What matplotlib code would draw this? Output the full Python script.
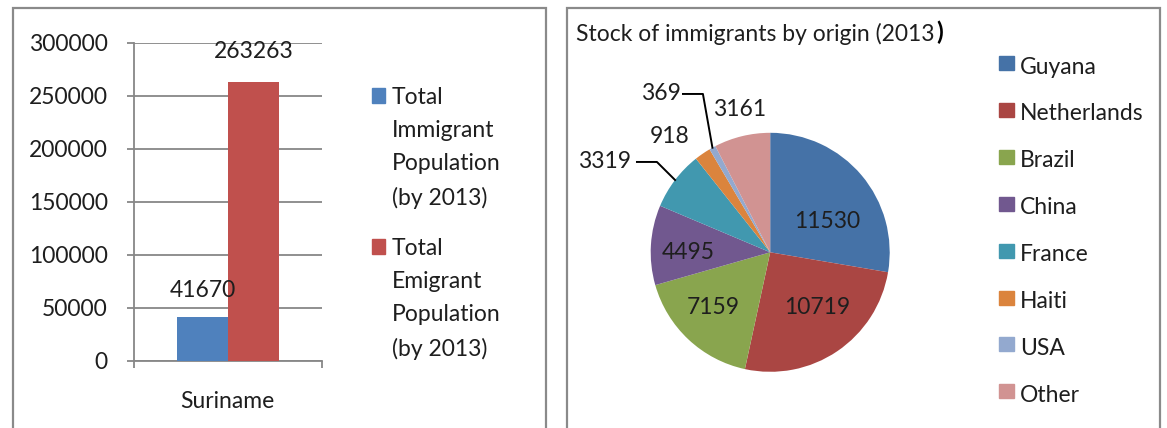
import numpy as np
import matplotlib
matplotlib.use("Agg")
import matplotlib.pyplot as plt
from matplotlib.patches import Rectangle

plt.rcParams['font.family'] = ['Lato', 'DejaVu Sans']

# bar chart data
countries = ['Suriname']
immigrants = [41670]
emigrants = [263263]
bar_labels = ['Total\nImmigrant\nPopulation\n(by 2013)', 'Total\nEmigrant\nPopulation\n(by 2013)']

# pie chart data
origins = ['Guyana', 'Netherlands', 'Brazil', 'China', 'France', 'Haiti', 'USA', 'Other']
stock = [11530, 10719, 7159, 4495, 3319, 918, 369, 3161]
pie_colors = ['#4572A7', '#AA4643', '#89A54E', '#71588F', '#4198AF', '#DB843D', '#93A9CF', '#D19392']

W, H = 1167, 428
fig = plt.figure(figsize=(W / 100, H / 100), dpi=100)
txt = '#1e1e1e'
grey = '#878787'
fs = 16.5


def fx(x):
    return x / W


def fy(y):
    return 1 - y / H


# panel frames
for x0, x1 in [(12.5, 546), (567, 1160)]:
    fig.patches.append(Rectangle((fx(x0), fy(440)), fx(x1 - x0), (440 - 8) / H,
                                 transform=fig.transFigure, fill=False,
                                 edgecolor='#8a8a8a', lw=1.6))

# ---- left: bars ----
ax = fig.add_axes([fx(134), fy(360.7), 188 / W, 318 / H])
w = 0.27
b1 = ax.bar(-w / 2, immigrants, w, color='#4F81BD', zorder=3)
b2 = ax.bar(w / 2, emigrants, w, color='#C0504D', zorder=3)
ax.bar_label(b1, labels=[str(v) for v in immigrants], padding=11, fontsize=fs, color=txt)
ax.bar_label(b2, labels=[str(v) for v in emigrants], padding=14, fontsize=fs, color=txt)
ax.set_xlim(-0.5, 0.5)
ax.set_ylim(0, 300000)
ax.set_yticks(np.arange(0, 300001, 50000))
ax.set_yticklabels([str(v) for v in range(0, 300001, 50000)], fontsize=fs, color=txt)
ax.set_xticks([-0.5, 0.5])
ax.set_xticklabels([])
ax.tick_params(axis='both', length=5, width=1.3, color=grey)
ax.tick_params(axis='y', pad=14)
ax.yaxis.grid(True, color=grey, lw=1.3, zorder=0)
for s in ['top', 'right']:
    ax.spines[s].set_visible(False)
for s in ['left', 'bottom']:
    ax.spines[s].set_color(grey)
    ax.spines[s].set_linewidth(1.3)
fig.text(fx(227), fy(401), countries[0], ha='center', va='center', fontsize=fs, color=txt)

# legend for bars
for i, (lab, col) in enumerate(zip(bar_labels, ['#4F81BD', '#C0504D'])):
    ytop = 88 + i * 151
    fig.patches.append(Rectangle((fx(372), fy(ytop + 15)), 13 / W, 15 / H,
                                 transform=fig.transFigure, color=col))
    fig.text(fx(392), fy(ytop - 1), lab, ha='left', va='top', fontsize=fs,
             color=txt, linespacing=1.7)

# ---- right: pie ----
cx, cy, r = 770.2, 252.3, 119.5
half = 150
pax = fig.add_axes([fx(cx - half), fy(cy + half), 2 * half / W, 2 * half / H])
pax.pie(stock, colors=pie_colors, startangle=90, counterclock=False, radius=1,
        wedgeprops=dict(linewidth=0))
pax.set_xlim(-half / r, half / r)
pax.set_ylim(-half / r, half / r)
pax.set_aspect('equal')
pax.axis('off')

# slice mid-angles
frac = np.array(stock) / sum(stock)
ends = 90 - 360 * np.cumsum(frac)
mids = ends + 180 * frac

label_pos = [(0.475, 0.254), (0.392, -0.466), (-0.479, -0.466), (-0.686, 0.0),
             (-1.387, 0.756), (-0.838, 0.973), (-0.914, 1.325), (-0.253, 1.191)]
for v, (lx, ly) in zip(stock, label_pos):
    pax.text(lx, ly, str(v), ha='center', va='center', fontsize=fs, color=txt)

# leader lines for France and USA
for idx, (sx, ex) in [(4, (-1.115, -0.948)), (6, (-0.73, -0.563))]:
    a = np.deg2rad(mids[idx])
    ly = label_pos[idx][1]
    pax.plot([sx, ex, np.cos(a)], [ly, ly, np.sin(a)], color='black', lw=1.4,
             clip_on=False)

title = fig.text(fx(576), fy(34), 'Stock of immigrants by origin (2013', ha='left',
                 va='center', fontsize=16.5, color=txt)
# closing bracket is set heavier than the rest of the title
pax.annotate(')', xy=(1, 0.5), xycoords=title, xytext=(1, 1),
             textcoords='offset points', ha='left', va='center', fontsize=18,
             fontweight='bold', color='black', annotation_clip=False)

# legend for pie
for i, (name, col) in enumerate(zip(origins, pie_colors)):
    yc = 67 + i * 46.9
    fig.patches.append(Rectangle((fx(999), fy(yc + 3)), 15 / W, 14 / H,
                                 transform=fig.transFigure, color=col))
    fig.text(fx(1020), fy(yc), name, ha='left', va='center', fontsize=fs, color=txt)

fig.savefig('out.png', dpi=100, facecolor='white')
